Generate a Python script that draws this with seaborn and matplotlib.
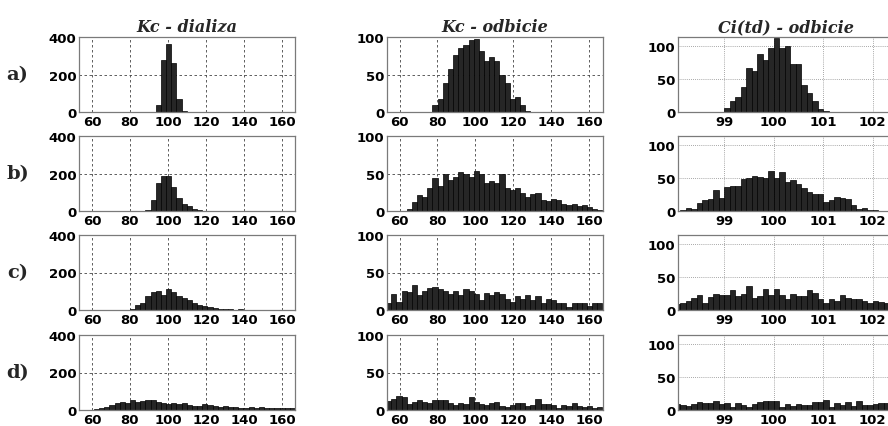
import numpy as np
import pandas as pd
import matplotlib
matplotlib.use("Agg")
import matplotlib.pyplot as plt
import seaborn as sns

# ---- data (histogram counts) ----
col_titles = ["Kc - dializa", "Kc - odbicie", "Ci(td) - odbicie"]
row_labels = ["a)", "b)", "c)", "d)"]

# Kc bins: 42 bins, edges 52.9 + 2.715*k
kc_edges = [float(v) for v in 52.9 + 2.715 * np.arange(43)]
# Ci(td) bins: 40 bins, edges 98 + k/9
ci_edges = [float(v) for v in 98.0 + np.arange(41) / 9.0]

dializa_a = [0]*15 + [40, 277, 362, 264, 68, 5] + [0]*21
dializa_b = [0]*13 + [8, 60, 152, 185, 185, 126, 68, 39, 25, 10, 4, 1] + [0]*17
dializa_c = [0]*10 + [5, 26, 40, 74, 97, 103, 80, 111, 94, 73, 64, 51, 38, 26, 23, 14,
                      9, 5, 4, 3, 1, 3, 1, 1] + [0]*8
dializa_d = [0, 0, 1, 5, 10, 18, 25, 40, 44, 37, 53, 44, 46, 51, 55, 44, 37, 32, 39, 30,
             37, 27, 23, 19, 34, 25, 23, 14, 19, 14, 18, 12, 12, 14, 11, 16, 11, 11, 12, 9,
             11, 9]

odbicie_a = [0]*9 + [9, 17, 39, 57, 76, 85, 89, 96, 97, 82, 68, 74, 68, 50, 39, 18, 20, 9, 1] + [0]*14
odbicie_b = [0]*4 + [3, 12, 22, 19, 31, 44, 33, 50, 42, 45, 52, 49, 45, 54, 50, 37, 40, 37,
                     50, 31, 28, 31, 24, 19, 23, 24, 15, 14, 16, 15, 9, 8, 9, 7, 8, 5, 3, 2]
odbicie_c = [10, 22, 11, 26, 24, 34, 20, 25, 30, 31, 28, 25, 22, 25, 20, 28, 26, 22, 14, 23,
             20, 24, 21, 15, 11, 19, 15, 20, 14, 19, 10, 15, 14, 10, 10, 4, 9, 9, 9, 5, 9, 9]
odbicie_d = [12, 15, 19, 17, 8, 11, 14, 11, 10, 13, 13, 13, 9, 7, 10, 8, 17, 11, 8, 7,
             10, 11, 5, 4, 7, 9, 9, 5, 7, 15, 8, 8, 7, 3, 7, 6, 10, 6, 4, 5, 3, 4]

citd_a = [0]*9 + [6, 17, 23, 37, 67, 62, 88, 79, 96, 112, 97, 99, 72, 73, 40, 28, 17, 4, 1] + [0]*12
citd_b = [0, 2, 5, 3, 12, 16, 18, 31, 20, 36, 38, 37, 48, 49, 52, 51, 50, 60, 50, 59,
          44, 47, 41, 35, 29, 25, 26, 14, 17, 21, 20, 18, 9, 3, 5, 2, 1, 0, 0, 0]
citd_c = [9, 10, 13, 18, 22, 11, 20, 24, 23, 23, 30, 21, 24, 36, 18, 21, 31, 23, 31, 22,
          16, 24, 21, 21, 30, 25, 17, 10, 16, 14, 23, 18, 16, 17, 13, 10, 14, 12, 10, 10]
citd_d = [9, 7, 6, 9, 12, 10, 10, 13, 9, 10, 5, 10, 8, 5, 9, 12, 13, 13, 13, 5,
          9, 6, 9, 8, 7, 12, 12, 15, 5, 11, 8, 12, 6, 13, 8, 8, 9, 10, 11, 10]

kc_xticks = [60, 80, 100, 120, 140, 160]
ci_xticks = [99, 100, 101, 102]
dializa_yticks = [0, 200, 400]
odbicie_yticks = [0, 50, 100]

columns = [
    dict(data=[dializa_a, dializa_b, dializa_c, dializa_d], edges=kc_edges,
         xlim=(53.2, 166.9), ylim=(0, 400), xticks=kc_xticks, yticks=dializa_yticks, grid="dash"),
    dict(data=[odbicie_a, odbicie_b, odbicie_c, odbicie_d], edges=kc_edges,
         xlim=(53.4, 167.2), ylim=(0, 100), xticks=kc_xticks, yticks=odbicie_yticks, grid="dash"),
    dict(data=[citd_a, citd_b, citd_c, citd_d], edges=ci_edges,
         xlim=(98.065, 102.43), ylim=(0, 113), xticks=ci_xticks, yticks=odbicie_yticks, grid="dot"),
]

# ---- style ----
sns.set_style("white")
plt.rcParams["font.family"] = ["DejaVu Sans"]

W, H = 888, 427
fig = plt.figure(figsize=(W / 100, H / 100), dpi=100)

col_left = [79, 387, 678]
col_w = 216
row_top = [38, 137, 236, 336]
row_h = 75

for c, col in enumerate(columns):
    edges = np.asarray(col["edges"])
    centers = 0.5 * (edges[:-1] + edges[1:])
    for r in range(4):
        ax = fig.add_axes([col_left[c] / W, 1 - (row_top[r] + row_h) / H, col_w / W, row_h / H])
        df = pd.DataFrame({"value": centers, "count": np.asarray(col["data"][r], float)})
        sns.histplot(data=df, x="value", weights="count", bins=col["edges"], ax=ax,
                     color="#262626", edgecolor="#000000", linewidth=0.5, alpha=1.0)
        ax.set_xlim(*col["xlim"])
        ax.set_ylim(*col["ylim"])
        ax.set_xticks(col["xticks"])
        ax.set_yticks(col["yticks"])
        ax.set_xlabel("")
        ax.set_ylabel("")
        ax.set_axisbelow(True)
        if col["grid"] == "dash":
            ax.grid(True, linestyle=(0, (3, 3)), color="#444444", linewidth=0.6)
        else:
            ax.grid(True, linestyle=(0, (1, 1.5)), color="#8a8a8a", linewidth=0.6)
        for s in ax.spines.values():
            s.set_visible(True)
            s.set_color("#7a7a7a")
            s.set_linewidth(0.9)
        ax.tick_params(direction="in", length=3, width=0.6, colors="#7a7a7a",
                       labelcolor="black", labelsize=9.5, pad=2)
        for lab in ax.get_xticklabels() + ax.get_yticklabels():
            lab.set_fontweight("bold")
        if r == 0:
            ax.set_title(col_titles[c], family=["DejaVu Serif"],
                         fontstyle="italic", fontweight="bold", fontsize=11.5, pad=4)
        if c == 0:
            ax.text(-0.285, 0.5, row_labels[r], transform=ax.transAxes,
                    family=["DejaVu Serif"], fontweight="bold",
                    fontsize=14, ha="center", va="center")

fig.savefig("out.png", dpi=100)
